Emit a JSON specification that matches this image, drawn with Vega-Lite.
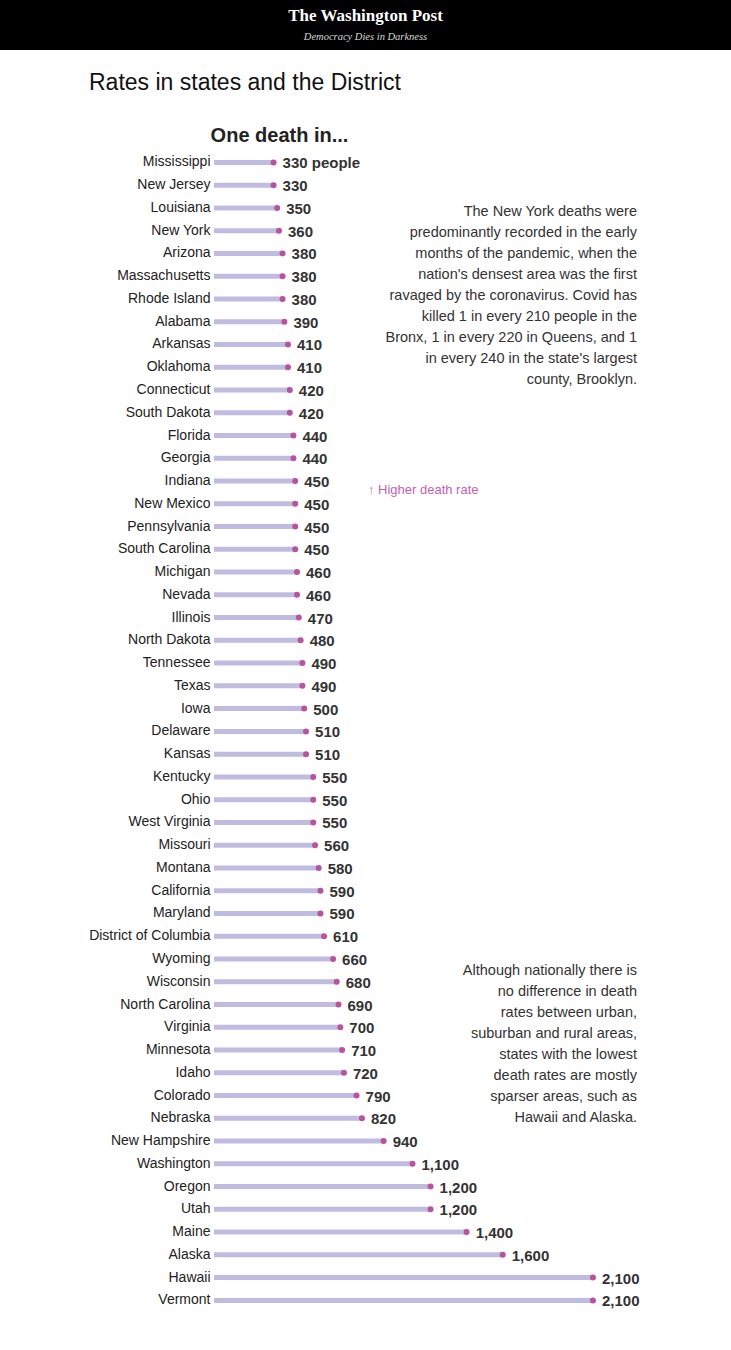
{
  "$schema": "https://vega.github.io/schema/vega-lite/v6.json",
  "padding": 0,
  "background": "white",
  "spacing": 22,
  "config": {
    "font": "Liberation Sans",
    "view": {"stroke": null}
  },
  "vconcat": [
    {
      "width": 731,
      "height": 50,
      "view": {"fill": "black", "stroke": null},
      "data": {"values": [
        {"row": "logo", "t": "The Washington Post"},
        {"row": "tag", "t": "Democracy Dies in Darkness"}
      ]},
      "layer": [
        {
          "transform": [{"filter": "datum.row === 'logo'"}],
          "mark": {"type": "text", "font": "Liberation Serif", "fontWeight": "bold", "fontSize": 17, "color": "white", "baseline": "middle"},
          "encoding": {
            "y": {"field": "row", "type": "nominal", "scale": {"type": "point", "domain": ["logo", "tag"], "range": [16, 37], "padding": 0}, "axis": null},
            "text": {"field": "t"}
          }
        },
        {
          "transform": [{"filter": "datum.row === 'tag'"}],
          "mark": {"type": "text", "font": "Liberation Serif", "fontStyle": "italic", "fontSize": 10.5, "color": "#d8d8d8", "baseline": "middle"},
          "encoding": {
            "y": {"field": "row", "type": "nominal", "scale": {"type": "point", "domain": ["logo", "tag"], "range": [16, 37], "padding": 0}, "axis": null},
            "text": {"field": "t"}
          }
        }
      ]
    },
    {
      "title": {"text": "Rates in states and the District", "anchor": "start", "frame": "group", "dx": 89, "fontSize": 23, "fontWeight": "normal", "color": "#111", "offset": 30},
      "width": 731,
      "height": {"step": 22.76},
      "data": {"values": [
        {"state": "Mississippi", "value": 330, "label": "330 people"},
        {"state": "New Jersey", "value": 330, "label": "330"},
        {"state": "Louisiana", "value": 350, "label": "350"},
        {"state": "New York", "value": 360, "label": "360"},
        {"state": "Arizona", "value": 380, "label": "380"},
        {"state": "Massachusetts", "value": 380, "label": "380"},
        {"state": "Rhode Island", "value": 380, "label": "380"},
        {"state": "Alabama", "value": 390, "label": "390"},
        {"state": "Arkansas", "value": 410, "label": "410"},
        {"state": "Oklahoma", "value": 410, "label": "410"},
        {"state": "Connecticut", "value": 420, "label": "420"},
        {"state": "South Dakota", "value": 420, "label": "420"},
        {"state": "Florida", "value": 440, "label": "440"},
        {"state": "Georgia", "value": 440, "label": "440"},
        {"state": "Indiana", "value": 450, "label": "450"},
        {"state": "New Mexico", "value": 450, "label": "450"},
        {"state": "Pennsylvania", "value": 450, "label": "450"},
        {"state": "South Carolina", "value": 450, "label": "450"},
        {"state": "Michigan", "value": 460, "label": "460"},
        {"state": "Nevada", "value": 460, "label": "460"},
        {"state": "Illinois", "value": 470, "label": "470"},
        {"state": "North Dakota", "value": 480, "label": "480"},
        {"state": "Tennessee", "value": 490, "label": "490"},
        {"state": "Texas", "value": 490, "label": "490"},
        {"state": "Iowa", "value": 500, "label": "500"},
        {"state": "Delaware", "value": 510, "label": "510"},
        {"state": "Kansas", "value": 510, "label": "510"},
        {"state": "Kentucky", "value": 550, "label": "550"},
        {"state": "Ohio", "value": 550, "label": "550"},
        {"state": "West Virginia", "value": 550, "label": "550"},
        {"state": "Missouri", "value": 560, "label": "560"},
        {"state": "Montana", "value": 580, "label": "580"},
        {"state": "California", "value": 590, "label": "590"},
        {"state": "Maryland", "value": 590, "label": "590"},
        {"state": "District of Columbia", "value": 610, "label": "610"},
        {"state": "Wyoming", "value": 660, "label": "660"},
        {"state": "Wisconsin", "value": 680, "label": "680"},
        {"state": "North Carolina", "value": 690, "label": "690"},
        {"state": "Virginia", "value": 700, "label": "700"},
        {"state": "Minnesota", "value": 710, "label": "710"},
        {"state": "Idaho", "value": 720, "label": "720"},
        {"state": "Colorado", "value": 790, "label": "790"},
        {"state": "Nebraska", "value": 820, "label": "820"},
        {"state": "New Hampshire", "value": 940, "label": "940"},
        {"state": "Washington", "value": 1100, "label": "1,100"},
        {"state": "Oregon", "value": 1200, "label": "1,200"},
        {"state": "Utah", "value": 1200, "label": "1,200"},
        {"state": "Maine", "value": 1400, "label": "1,400"},
        {"state": "Alaska", "value": 1600, "label": "1,600"},
        {"state": "Hawaii", "value": 2100, "label": "2,100"},
        {"state": "Vermont", "value": 2100, "label": "2,100"}
      ]},
      "encoding": {
        "y": {
          "field": "state", "type": "nominal", "sort": null,
          "scale": {"paddingInner": 0, "paddingOuter": 0},
          "axis": {"title": null, "ticks": false, "domain": false, "grid": false, "labelFontSize": 14, "labelColor": "#222", "labelPadding": 4, "offset": -214}
        }
      },
      "layer": [
        {
          "mark": {"type": "bar", "size": 5, "color": "#c0bbe0"},
          "encoding": {
            "x": {
              "field": "value", "type": "quantitative",
              "scale": {"domain": [-1186, 2865], "nice": false, "zero": true},
              "axis": {"orient": "top", "labels": false, "ticks": false, "domain": false, "grid": false, "title": "One death in...", "titleFontSize": 20, "titleFontWeight": "bold", "titleColor": "#222", "titleAlign": "center", "titleX": 279, "titlePadding": 6}
            }
          }
        },
        {
          "mark": {"type": "circle", "size": 36, "color": "#b9529f", "opacity": 1},
          "encoding": {"x": {"field": "value", "type": "quantitative"}}
        },
        {
          "mark": {"type": "text", "align": "left", "baseline": "middle", "dx": 9, "dy": 1, "fontSize": 15, "fontWeight": "bold", "color": "#333"},
          "encoding": {"x": {"field": "value", "type": "quantitative"}, "text": {"field": "label"}}
        },
        {
          "data": {"values": [{"note": "ny"}]},
          "mark": {"type": "text", "align": "right", "baseline": "alphabetic", "fontSize": 14.5, "color": "#333", "lineHeight": 21, "dy": 8.5,
            "text": ["The New York deaths were", "predominantly recorded in the early", "months of the pandemic, when the", "nation's densest area was the first", "ravaged by the coronavirus. Covid has", "killed 1 in every 210 people in the", "Bronx, 1 in every 220 in Queens, and 1", "in every 240 in the state's largest", "county, Brooklyn."]},
          "encoding": {"x": {"datum": 2344}, "y": {"datum": "Louisiana"}}
        },
        {
          "data": {"values": [{"note": "arrow"}]},
          "mark": {"type": "text", "align": "left", "baseline": "alphabetic", "fontSize": 13, "color": "#c45fb4", "dy": 13, "text": "↑ Higher death rate"},
          "encoding": {"x": {"datum": 853}, "y": {"datum": "Indiana"}}
        },
        {
          "data": {"values": [{"note": "rural"}]},
          "mark": {"type": "text", "align": "right", "baseline": "alphabetic", "fontSize": 14.5, "color": "#333", "lineHeight": 21, "dy": 16,
            "text": ["Although nationally there is", "no difference in death", "rates between urban,", "suburban and rural areas,", "states with the lowest", "death rates are mostly", "sparser areas, such as", "Hawaii and Alaska."]},
          "encoding": {"x": {"datum": 2344}, "y": {"datum": "Wyoming"}}
        }
      ]
    }
  ]
}
